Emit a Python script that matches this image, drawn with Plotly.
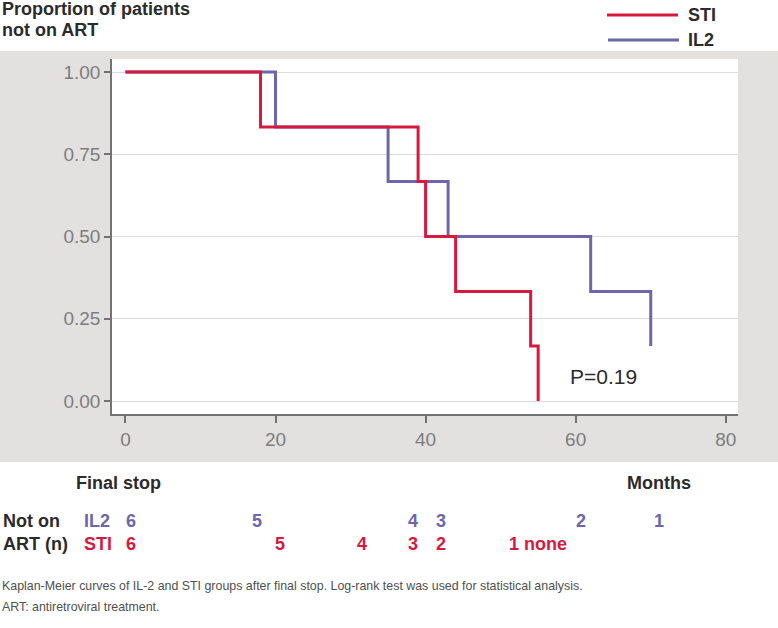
import plotly.graph_objects as go

# ---------------- data ----------------
sti_time = [0, 18, 39, 40, 44, 54, 55]
sti_surv = [1.0, 0.833, 0.667, 0.5, 0.333, 0.167, 0.0]
il2_time = [0, 20, 35, 43, 62, 70]
il2_surv = [1.0, 0.833, 0.667, 0.5, 0.333, 0.167]

y_ticks = [0.0, 0.25, 0.5, 0.75, 1.0]
x_ticks = [0, 20, 40, 60, 80]

il2_at_risk = ["6", "5", "4", "3", "2", "1"]
sti_at_risk = ["6", "5", "4", "3", "2", "1 none"]
p_value_text = "P=0.19"

# ---------------- layout helpers (pixel positions) ----------------
W, H = 778, 628
L, R, T, B = 112, 738, 59, 414  # plot area in pixels


def xp(px):
    return (px - L) / (R - L)


def yp(py):
    return (B - py) / (B - T)


RED = "#D7193F"
PURPLE = "#6D66AA"
AXIS = "#727272"
TICKTXT = "#7d7d7d"
DARK = "#2b2b2b"
FONT = "Liberation Sans, Arial, sans-serif"

fig = go.Figure()
fig.add_trace(go.Scatter(x=il2_time, y=il2_surv, mode="lines", line_shape="hv",
                         line=dict(color=PURPLE, width=3), name="IL2", showlegend=False))
fig.add_trace(go.Scatter(x=sti_time, y=sti_surv, mode="lines", line_shape="hv",
                         line=dict(color=RED, width=3), name="STI", showlegend=False))

shapes = [
    dict(type="rect", xref="paper", yref="paper", x0=xp(0), x1=xp(W), y0=yp(462), y1=yp(51),
         fillcolor="#e2e1df", line=dict(width=0), layer="below"),
    dict(type="rect", xref="paper", yref="paper", x0=0, x1=1, y0=0, y1=1,
         fillcolor="white", line=dict(width=0), layer="below"),
    # legend samples
    dict(type="line", xref="paper", yref="paper", x0=xp(607), x1=xp(678), y0=yp(15), y1=yp(15),
         line=dict(color=RED, width=3)),
    dict(type="line", xref="paper", yref="paper", x0=xp(608), x1=xp(679), y0=yp(40), y1=yp(40),
         line=dict(color=PURPLE, width=3)),
]

ann = []


def text(s, px, py, size, color, bold=False, xanchor="left"):
    ann.append(dict(text=f"<b>{s}</b>" if bold else s, xref="paper", yref="paper",
                    x=xp(px), y=yp(py), xanchor=xanchor, yanchor="middle", showarrow=False,
                    font=dict(family=FONT, size=size, color=color)))


# title
text("Proportion of patients", 0, 9, 18, DARK, bold=True)
text("not on ART", 0, 30, 18, DARK, bold=True)
# legend labels
text("STI", 686, 15, 18, DARK, bold=True)
text("IL2", 686, 40, 18, DARK, bold=True)
# p-value
text(p_value_text, 568, 376, 21, DARK)
# under-axis labels
text("Final stop", 118, 483, 18, DARK, bold=True, xanchor="center")
text("Months", 659, 483, 18, DARK, bold=True, xanchor="center")
text("Not on", 1, 521, 18, DARK, bold=True)
text("ART (n)", 1, 544, 18, DARK, bold=True)
text("IL2", 82, 521, 18, PURPLE, bold=True)
text("STI", 82, 544, 18, RED, bold=True)

il2_pos = [131, 257, 413, 441, 581, 659]
sti_pos = [131, 280, 362, 413, 441, 507]
for s, px in zip(il2_at_risk, il2_pos):
    text(s, px, 521, 18, PURPLE, bold=True, xanchor="center")
for s, px in zip(sti_at_risk, sti_pos):
    text(s, px, 544, 18, RED, bold=True, xanchor="left" if " " in s else "center")

# footnotes
text("Kaplan-Meier curves of IL-2 and STI groups after final stop. Log-rank test was used for statistical analysis.",
     0, 586, 12.4, "#505050")
text("ART: antiretroviral treatment.", 0, 607, 12.4, "#505050")

fig.update_layout(
    width=W, height=H,
    margin=dict(l=L, r=W - R, t=T, b=H - B, pad=0),
    paper_bgcolor="white", plot_bgcolor="white",
    shapes=shapes, annotations=ann,
    font=dict(family=FONT),
    xaxis=dict(range=[-1.79, 81.63], tickvals=x_ticks, showgrid=False, zeroline=False,
               showline=True, linecolor=AXIS, linewidth=1.5,
               ticks="outside", ticklen=7, tickwidth=1.5, tickcolor=AXIS,
               tickfont=dict(size=19, color=TICKTXT, family=FONT)),
    yaxis=dict(range=[-0.0395, 1.0395], tickvals=y_ticks, tickformat=".2f",
               showgrid=True, gridcolor="#dcdcdc", gridwidth=1, zeroline=False,
               showline=True, linecolor=AXIS, linewidth=1.5,
               ticks="outside", ticklen=6, tickwidth=1.5, tickcolor=AXIS,
               tickfont=dict(size=19, color=TICKTXT, family=FONT)),
)

fig.write_html("out.html", config={"displayModeBar": False},
               post_script="document.body.style.margin='0px';")
